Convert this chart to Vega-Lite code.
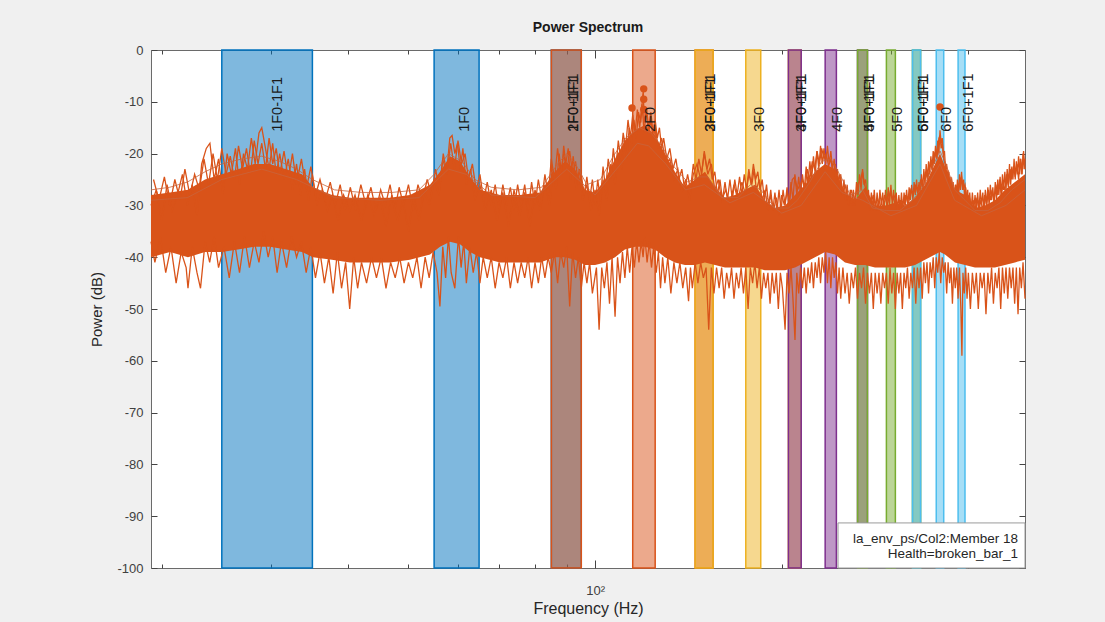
{
"$schema":"https://vega.github.io/schema/vega-lite/v6.json",
"width":874,"height":518,
"autosize":{"type":"none"},
"padding":{"left":151,"top":50,"right":80,"bottom":54},
"background":"#f0f0f0",
"config":{"view":{"fill":"white","stroke":"#6a6a6a","strokeWidth":1},"font":"Liberation Sans"},
"title":{"text":"Power Spectrum","fontSize":14,"fontWeight":"bold","color":"#1a1a1a","font":"Liberation Sans","anchor":"middle","offset":9},
"datasets":{
"bands":[
{"name":"1F0-1F1","g":"1","c":30,"lo":25,"hi":35},
{"name":"1F0","g":"1","c":60,"lo":55,"hi":65},
{"name":"1F0+1F1","g":"1","c":90,"lo":85,"hi":95},
{"name":"2F0-1F1","g":"2","c":90,"lo":85,"hi":95},
{"name":"2F0","g":"2","c":120,"lo":115,"hi":125},
{"name":"2F0+1F1","g":"2","c":150,"lo":145,"hi":155},
{"name":"3F0-1F1","g":"3","c":150,"lo":145,"hi":155},
{"name":"3F0","g":"3","c":180,"lo":175,"hi":185},
{"name":"3F0+1F1","g":"3","c":210,"lo":205,"hi":215},
{"name":"4F0-1F1","g":"4","c":210,"lo":205,"hi":215},
{"name":"4F0","g":"4","c":240,"lo":235,"hi":245},
{"name":"4F0+1F1","g":"4","c":270,"lo":265,"hi":275},
{"name":"5F0-1F1","g":"5","c":270,"lo":265,"hi":275},
{"name":"5F0","g":"5","c":300,"lo":295,"hi":305},
{"name":"5F0+1F1","g":"5","c":330,"lo":325,"hi":335},
{"name":"6F0-1F1","g":"6","c":330,"lo":325,"hi":335},
{"name":"6F0","g":"6","c":360,"lo":355,"hi":365},
{"name":"6F0+1F1","g":"6","c":390,"lo":385,"hi":395}
],
"core":[
{"f":19.22,"lo":-40,"hi":-28},{"f":20.63,"lo":-39,"hi":-27.5},{"f":22.05,"lo":-40,"hi":-27},{"f":23.49,"lo":-39,"hi":-25},{"f":25.0,"lo":-39,"hi":-24},{"f":26.55,"lo":-38.5,"hi":-23},{"f":28.18,"lo":-38,"hi":-22},{"f":29.9,"lo":-38,"hi":-22},{"f":31.73,"lo":-38.5,"hi":-23},{"f":33.68,"lo":-39,"hi":-24},{"f":35.08,"lo":-40,"hi":-26.5},{"f":37.64,"lo":-40.5,"hi":-28},{"f":40.24,"lo":-41,"hi":-28.5},{"f":43.34,"lo":-41,"hi":-28.5},{"f":46.68,"lo":-41,"hi":-28.5},{"f":50.28,"lo":-40.5,"hi":-28},{"f":54.17,"lo":-39.5,"hi":-26},{"f":56.22,"lo":-38,"hi":-23.5},{"f":58.34,"lo":-37,"hi":-20.5},{"f":60.55,"lo":-37.5,"hi":-21.5},{"f":62.84,"lo":-39,"hi":-24.5},{"f":65.22,"lo":-40,"hi":-27},{"f":70.25,"lo":-41,"hi":-28},{"f":75.65,"lo":-41,"hi":-28},{"f":81.49,"lo":-41,"hi":-27.5},{"f":86.16,"lo":-40,"hi":-23.5},{"f":89.44,"lo":-40,"hi":-21.5},{"f":92.82,"lo":-40.5,"hi":-23},{"f":96.31,"lo":-41.5,"hi":-27},{"f":100,"lo":-41.5,"hi":-27.5},{"f":103.8,"lo":-41,"hi":-25},{"f":107.7,"lo":-40,"hi":-21},{"f":111.7,"lo":-38.5,"hi":-17.5},{"f":116,"lo":-38,"hi":-15.5},{"f":120.3,"lo":-38,"hi":-14.5},{"f":124.9,"lo":-38.5,"hi":-16.5},{"f":129.6,"lo":-40,"hi":-20},{"f":134.5,"lo":-41,"hi":-23.5},{"f":139.6,"lo":-41.5,"hi":-26.5},{"f":144.9,"lo":-41.5,"hi":-25},{"f":150.4,"lo":-41,"hi":-23.5},{"f":156.1,"lo":-41.5,"hi":-26.5},{"f":162,"lo":-42,"hi":-28.5},{"f":168.1,"lo":-42,"hi":-28},{"f":174.5,"lo":-42,"hi":-27},{"f":181.1,"lo":-42,"hi":-26},{"f":187.9,"lo":-42.5,"hi":-29},{"f":195.1,"lo":-42.5,"hi":-30.5},{"f":202.5,"lo":-42.5,"hi":-30},{"f":210.1,"lo":-42,"hi":-28},{"f":218.1,"lo":-41,"hi":-26},{"f":226.3,"lo":-40,"hi":-23.5},{"f":234.9,"lo":-39,"hi":-22},{"f":243.8,"lo":-39.5,"hi":-23},{"f":253,"lo":-41,"hi":-27.5},{"f":262.6,"lo":-41.5,"hi":-29},{"f":272.5,"lo":-41.5,"hi":-26.5},{"f":282.8,"lo":-42,"hi":-30},{"f":293.5,"lo":-42,"hi":-30},{"f":304.6,"lo":-42,"hi":-29.5},{"f":316.1,"lo":-42,"hi":-30},{"f":328.1,"lo":-41.5,"hi":-28.5},{"f":340.5,"lo":-40.5,"hi":-26},{"f":353.4,"lo":-39.5,"hi":-22},{"f":360,"lo":-39,"hi":-20},{"f":366.7,"lo":-39.5,"hi":-22.5},{"f":380.6,"lo":-41,"hi":-27},{"f":395,"lo":-41.5,"hi":-28},{"f":409.9,"lo":-42,"hi":-30.5},{"f":425.4,"lo":-42,"hi":-30},{"f":441.5,"lo":-42,"hi":-29},{"f":458.2,"lo":-41.5,"hi":-27},{"f":475.6,"lo":-41,"hi":-25.5},{"f":493.6,"lo":-40.5,"hi":-24}
],
"spikes":[
{"s":"a","f":19.22,"v":-30},{"s":"a","f":19.6,"v":-27},{"s":"a","f":20.0,"v":-33},{"s":"a","f":20.4,"v":-26},{"s":"a","f":20.8,"v":-31},{"s":"a","f":21.2,"v":-28},{"s":"a","f":21.6,"v":-24},{"s":"a","f":22.0,"v":-30},{"s":"a","f":22.4,"v":-26},{"s":"a","f":22.8,"v":-32},{"s":"a","f":23.2,"v":-22},{"s":"a","f":23.6,"v":-19},{"s":"a","f":23.92,"v":-18},{"s":"a","f":24.3,"v":-25},{"s":"a","f":24.7,"v":-21},{"s":"a","f":25.1,"v":-28},{"s":"a","f":25.5,"v":-20},{"s":"a","f":25.9,"v":-24},{"s":"a","f":26.3,"v":-19},{"s":"a","f":26.7,"v":-26},{"s":"a","f":27.1,"v":-20},{"s":"a","f":27.5,"v":-23},{"s":"a","f":27.9,"v":-17},{"s":"a","f":28.3,"v":-22},{"s":"a","f":28.7,"v":-16},{"s":"a","f":29.0,"v":-15},{"s":"a","f":29.4,"v":-19},{"s":"a","f":29.8,"v":-23},{"s":"a","f":30.2,"v":-18},{"s":"a","f":30.6,"v":-24},{"s":"a","f":31.0,"v":-20},{"s":"a","f":31.5,"v":-25},{"s":"a","f":32.0,"v":-21},{"s":"a","f":32.5,"v":-27},{"s":"a","f":33.0,"v":-22},{"s":"a","f":33.5,"v":-28},{"s":"a","f":34.0,"v":-23},{"s":"a","f":34.5,"v":-29},{"s":"a","f":35.0,"v":-24},{"s":"a","f":35.6,"v":-30},{"s":"a","f":36.3,"v":-27},{"s":"a","f":37.0,"v":-31},{"s":"a","f":37.7,"v":-28},{"s":"a","f":38.5,"v":-33},{"s":"a","f":39.3,"v":-28},{"s":"a","f":40.2,"v":-31},{"s":"a","f":41.0,"v":-28},{"s":"a","f":42.0,"v":-33},{"s":"a","f":43.0,"v":-28},{"s":"a","f":44.0,"v":-32},{"s":"a","f":45.0,"v":-28.5},{"s":"a","f":46.0,"v":-34},{"s":"a","f":47.0,"v":-28},{"s":"a","f":48.0,"v":-33},{"s":"a","f":49.0,"v":-29},{"s":"a","f":50.0,"v":-35},{"s":"a","f":51.0,"v":-28},{"s":"a","f":52.0,"v":-33},{"s":"a","f":53.0,"v":-27},{"s":"a","f":54.0,"v":-30},{"s":"a","f":55.0,"v":-25},{"s":"a","f":56.0,"v":-28},{"s":"a","f":56.8,"v":-21},{"s":"a","f":57.6,"v":-24},{"s":"a","f":58.3,"v":-17},{"s":"a","f":58.8,"v":-16.5},{"s":"a","f":59.4,"v":-20},{"s":"a","f":60.0,"v":-18},{"s":"a","f":60.6,"v":-23},{"s":"a","f":61.2,"v":-19},{"s":"a","f":62.0,"v":-26},{"s":"a","f":63.0,"v":-23},{"s":"a","f":64.0,"v":-29},{"s":"a","f":65.2,"v":-26},{"s":"a","f":66.5,"v":-31},{"s":"a","f":68.0,"v":-27},{"s":"a","f":69.5,"v":-33},{"s":"a","f":71.0,"v":-27.5},{"s":"a","f":72.5,"v":-34},{"s":"a","f":74.0,"v":-27},{"s":"a","f":75.5,"v":-32},{"s":"a","f":77.0,"v":-27.5},{"s":"a","f":78.5,"v":-34},{"s":"a","f":80.0,"v":-27},{"s":"a","f":81.5,"v":-31},{"s":"a","f":83.0,"v":-26},{"s":"a","f":84.5,"v":-30},{"s":"a","f":85.5,"v":-23},{"s":"a","f":86.5,"v":-27},{"s":"a","f":87.5,"v":-20},{"s":"a","f":88.3,"v":-24},{"s":"a","f":89.0,"v":-18.5},{"s":"a","f":89.7,"v":-22},{"s":"a","f":90.5,"v":-19},{"s":"a","f":91.3,"v":-25},{"s":"a","f":92.2,"v":-20.5},{"s":"a","f":93.2,"v":-27},{"s":"a","f":94.3,"v":-23},{"s":"a","f":95.5,"v":-29},{"s":"a","f":97.0,"v":-26},{"s":"a","f":98.5,"v":-31},{"s":"a","f":100,"v":-27},{"s":"a","f":101.5,"v":-32},{"s":"a","f":103,"v":-25},{"s":"a","f":104.5,"v":-29},{"s":"a","f":106,"v":-22},{"s":"a","f":107.7,"v":-26},{"s":"a","f":109,"v":-20},{"s":"a","f":110.5,"v":-23},{"s":"a","f":111.5,"v":-17},{"s":"a","f":112.5,"v":-21},{"s":"a","f":113.5,"v":-15},{"s":"a","f":114.5,"v":-18},{"s":"a","f":115.5,"v":-13.5},{"s":"a","f":116.5,"v":-17},{"s":"a","f":117.5,"v":-12},{"s":"a","f":118.5,"v":-14},{"s":"a","f":119.3,"v":-9},{"s":"a","f":119.6,"v":-8},{"s":"a","f":120.0,"v":-14},{"s":"a","f":121,"v":-12},{"s":"a","f":122,"v":-16},{"s":"a","f":123,"v":-13.5},{"s":"a","f":124,"v":-17},{"s":"a","f":125,"v":-15},{"s":"a","f":126.5,"v":-19},{"s":"a","f":128,"v":-17},{"s":"a","f":130,"v":-22},{"s":"a","f":132,"v":-21},{"s":"a","f":134,"v":-25},{"s":"a","f":136,"v":-23},{"s":"a","f":138,"v":-27.5},{"s":"a","f":140,"v":-25},{"s":"a","f":142,"v":-29},{"s":"a","f":144,"v":-24},{"s":"a","f":146,"v":-22},{"s":"a","f":148,"v":-25},{"s":"a","f":150,"v":-20},{"s":"a","f":152,"v":-24},{"s":"a","f":154,"v":-22},{"s":"a","f":156,"v":-27},{"s":"a","f":158,"v":-25},{"s":"a","f":160,"v":-29},{"s":"a","f":162.5,"v":-27},{"s":"a","f":165,"v":-30},{"s":"a","f":167.5,"v":-26},{"s":"a","f":170,"v":-29},{"s":"a","f":172.5,"v":-25.5},{"s":"a","f":175,"v":-28},{"s":"a","f":177,"v":-24},{"s":"a","f":179,"v":-26},{"s":"a","f":180.5,"v":-23},{"s":"a","f":182,"v":-27},{"s":"a","f":184,"v":-25},{"s":"a","f":186,"v":-29},{"s":"a","f":188,"v":-27},{"s":"a","f":190,"v":-31},{"s":"a","f":192,"v":-28},{"s":"a","f":194,"v":-31},{"s":"a","f":196,"v":-28.5},{"s":"a","f":198,"v":-32},{"s":"a","f":200,"v":-28},{"s":"a","f":202,"v":-30},{"s":"a","f":204,"v":-27.5},{"s":"a","f":206,"v":-29},{"s":"a","f":208,"v":-25},{"s":"a","f":210,"v":-24.5},{"s":"a","f":212,"v":-27},{"s":"a","f":214,"v":-26},{"s":"a","f":216,"v":-25},{"s":"a","f":218,"v":-27},{"s":"a","f":220,"v":-23},{"s":"a","f":222,"v":-25},{"s":"a","f":224,"v":-21.5},{"s":"a","f":226,"v":-23},{"s":"a","f":228,"v":-19.5},{"s":"a","f":230,"v":-22},{"s":"a","f":232,"v":-19},{"s":"a","f":234,"v":-21},{"s":"a","f":236,"v":-20},{"s":"a","f":238,"v":-22.5},{"s":"a","f":240,"v":-21},{"s":"a","f":242,"v":-24},{"s":"a","f":244,"v":-22},{"s":"a","f":246,"v":-26},{"s":"a","f":248,"v":-24},{"s":"a","f":250,"v":-28},{"s":"a","f":253,"v":-26},{"s":"a","f":256,"v":-29},{"s":"a","f":259,"v":-27},{"s":"a","f":262,"v":-30},{"s":"a","f":265,"v":-26},{"s":"a","f":268,"v":-25},{"s":"a","f":270,"v":-23.5},{"s":"a","f":272,"v":-26},{"s":"a","f":275,"v":-28},{"s":"a","f":278,"v":-30},{"s":"a","f":281,"v":-28},{"s":"a","f":284,"v":-31},{"s":"a","f":287,"v":-29},{"s":"a","f":290,"v":-31},{"s":"a","f":293,"v":-28},{"s":"a","f":296,"v":-30},{"s":"a","f":299,"v":-27.5},{"s":"a","f":302,"v":-29},{"s":"a","f":305,"v":-28},{"s":"a","f":308,"v":-31},{"s":"a","f":311,"v":-29},{"s":"a","f":314,"v":-31},{"s":"a","f":317,"v":-28},{"s":"a","f":320,"v":-30},{"s":"a","f":323,"v":-27},{"s":"a","f":326,"v":-28},{"s":"a","f":329,"v":-26},{"s":"a","f":332,"v":-28},{"s":"a","f":335,"v":-25},{"s":"a","f":338,"v":-27},{"s":"a","f":341,"v":-23.5},{"s":"a","f":344,"v":-25},{"s":"a","f":347,"v":-22},{"s":"a","f":350,"v":-23},{"s":"a","f":353,"v":-20},{"s":"a","f":356,"v":-21},{"s":"a","f":358.5,"v":-17},{"s":"a","f":360,"v":-16.5},{"s":"a","f":361.5,"v":-19},{"s":"a","f":363,"v":-18},{"s":"a","f":365,"v":-21},{"s":"a","f":367,"v":-22},{"s":"a","f":369,"v":-24},{"s":"a","f":371,"v":-23.5},{"s":"a","f":373,"v":-26},{"s":"a","f":376,"v":-25},{"s":"a","f":379,"v":-28},{"s":"a","f":382,"v":-26},{"s":"a","f":385,"v":-28},{"s":"a","f":388,"v":-25},{"s":"a","f":390,"v":-24.5},{"s":"a","f":392,"v":-27},{"s":"a","f":395,"v":-26},{"s":"a","f":398,"v":-29},{"s":"a","f":401,"v":-28},{"s":"a","f":404,"v":-31},{"s":"a","f":407,"v":-29},{"s":"a","f":410,"v":-31},{"s":"a","f":413,"v":-28.5},{"s":"a","f":416,"v":-31},{"s":"a","f":419,"v":-29},{"s":"a","f":422,"v":-31},{"s":"a","f":425,"v":-28},{"s":"a","f":428,"v":-30},{"s":"a","f":431,"v":-27},{"s":"a","f":434,"v":-29},{"s":"a","f":437,"v":-27},{"s":"a","f":440,"v":-29},{"s":"a","f":443,"v":-26},{"s":"a","f":446,"v":-28},{"s":"a","f":449,"v":-25},{"s":"a","f":452,"v":-28},{"s":"a","f":455,"v":-26},{"s":"a","f":458,"v":-27},{"s":"a","f":461,"v":-24},{"s":"a","f":464,"v":-26.5},{"s":"a","f":467,"v":-23},{"s":"a","f":470,"v":-25},{"s":"a","f":473,"v":-22.5},{"s":"a","f":476,"v":-24.5},{"s":"a","f":479,"v":-22},{"s":"a","f":482,"v":-25},{"s":"a","f":485,"v":-21},{"s":"a","f":488,"v":-24},{"s":"a","f":491,"v":-19.5},{"s":"a","f":493.6,"v":-23},
{"s":"b","f":19.22,"v":-37},{"s":"b","f":19.5,"v":-41},{"s":"b","f":19.9,"v":-36},{"s":"b","f":20.3,"v":-43},{"s":"b","f":20.7,"v":-38},{"s":"b","f":21.1,"v":-45},{"s":"b","f":21.5,"v":-39},{"s":"b","f":21.9,"v":-42},{"s":"b","f":22.05,"v":-46},{"s":"b","f":22.4,"v":-38},{"s":"b","f":22.8,"v":-43},{"s":"b","f":23.1,"v":-46},{"s":"b","f":23.5,"v":-37},{"s":"b","f":23.9,"v":-41},{"s":"b","f":24.3,"v":-36},{"s":"b","f":24.7,"v":-42},{"s":"b","f":25.2,"v":-38},{"s":"b","f":25.7,"v":-44},{"s":"b","f":26.2,"v":-37},{"s":"b","f":26.7,"v":-43},{"s":"b","f":27.2,"v":-36},{"s":"b","f":27.7,"v":-42},{"s":"b","f":28.2,"v":-37},{"s":"b","f":28.7,"v":-41},{"s":"b","f":29.2,"v":-35},{"s":"b","f":29.7,"v":-40},{"s":"b","f":30.2,"v":-36},{"s":"b","f":30.7,"v":-43},{"s":"b","f":31.2,"v":-37},{"s":"b","f":31.8,"v":-42},{"s":"b","f":32.4,"v":-36},{"s":"b","f":33.0,"v":-40},{"s":"b","f":33.6,"v":-37},{"s":"b","f":34.2,"v":-43},{"s":"b","f":34.8,"v":-38},{"s":"b","f":35.4,"v":-44},{"s":"b","f":36.0,"v":-39},{"s":"b","f":36.6,"v":-45},{"s":"b","f":37.2,"v":-40},{"s":"b","f":37.8,"v":-47},{"s":"b","f":38.4,"v":-39},{"s":"b","f":39.0,"v":-46},{"s":"b","f":39.6,"v":-41},{"s":"b","f":40.2,"v":-50},{"s":"b","f":40.8,"v":-40},{"s":"b","f":41.4,"v":-46},{"s":"b","f":42.0,"v":-41},{"s":"b","f":42.8,"v":-45},{"s":"b","f":43.6,"v":-40},{"s":"b","f":44.4,"v":-44},{"s":"b","f":45.2,"v":-40},{"s":"b","f":46.0,"v":-46},{"s":"b","f":46.8,"v":-41},{"s":"b","f":47.6,"v":-44},{"s":"b","f":48.4,"v":-40},{"s":"b","f":49.2,"v":-45},{"s":"b","f":50.0,"v":-41},{"s":"b","f":50.8,"v":-44},{"s":"b","f":51.6,"v":-40},{"s":"b","f":52.4,"v":-46},{"s":"b","f":53.2,"v":-40},{"s":"b","f":54.0,"v":-44},{"s":"b","f":54.8,"v":-39},{"s":"b","f":55.6,"v":-43},{"s":"b","f":56.2,"v":-49.5},{"s":"b","f":56.8,"v":-38},{"s":"b","f":57.4,"v":-44},{"s":"b","f":58.0,"v":-36},{"s":"b","f":58.6,"v":-43},{"s":"b","f":59.4,"v":-46},{"s":"b","f":60.2,"v":-36},{"s":"b","f":60.8,"v":-42},{"s":"b","f":61.4,"v":-37},{"s":"b","f":62.0,"v":-45},{"s":"b","f":62.8,"v":-38},{"s":"b","f":63.6,"v":-43},{"s":"b","f":64.4,"v":-39},{"s":"b","f":65.2,"v":-45},{"s":"b","f":66.0,"v":-40},{"s":"b","f":67.0,"v":-44},{"s":"b","f":68.0,"v":-40},{"s":"b","f":69.0,"v":-46},{"s":"b","f":70.0,"v":-41},{"s":"b","f":71.0,"v":-44},{"s":"b","f":72.0,"v":-40},{"s":"b","f":73.0,"v":-46},{"s":"b","f":74.0,"v":-41},{"s":"b","f":75.0,"v":-45},{"s":"b","f":76.0,"v":-41},{"s":"b","f":77.0,"v":-44},{"s":"b","f":78.0,"v":-40},{"s":"b","f":79.0,"v":-46},{"s":"b","f":80.0,"v":-41},{"s":"b","f":81.0,"v":-45},{"s":"b","f":82.0,"v":-40},{"s":"b","f":83.0,"v":-44},{"s":"b","f":84.0,"v":-40},{"s":"b","f":85.0,"v":-43},{"s":"b","f":86.0,"v":-39},{"s":"b","f":87.0,"v":-45},{"s":"b","f":88.0,"v":-39},{"s":"b","f":89.0,"v":-42},{"s":"b","f":90.0,"v":-38},{"s":"b","f":91.0,"v":-49.5},{"s":"b","f":92.0,"v":-39},{"s":"b","f":93.0,"v":-44},{"s":"b","f":94.0,"v":-40},{"s":"b","f":95.0,"v":-46},{"s":"b","f":96.0,"v":-41},{"s":"b","f":97.0,"v":-45},{"s":"b","f":98.0,"v":-41},{"s":"b","f":99.0,"v":-47},{"s":"b","f":100.5,"v":-42},{"s":"b","f":101.5,"v":-54},{"s":"b","f":102.5,"v":-42},{"s":"b","f":103.5,"v":-46},{"s":"b","f":104.5,"v":-41},{"s":"b","f":105.5,"v":-49},{"s":"b","f":106.5,"v":-40},{"s":"b","f":107.7,"v":-51.5},{"s":"b","f":108.7,"v":-40},{"s":"b","f":109.7,"v":-45},{"s":"b","f":110.7,"v":-39},{"s":"b","f":111.7,"v":-44},{"s":"b","f":112.7,"v":-38},{"s":"b","f":113.7,"v":-43},{"s":"b","f":114.7,"v":-38},{"s":"b","f":115.7,"v":-42},{"s":"b","f":116.7,"v":-37},{"s":"b","f":117.7,"v":-41},{"s":"b","f":118.7,"v":-37},{"s":"b","f":119.5,"v":-40},{"s":"b","f":120.3,"v":-36},{"s":"b","f":121.3,"v":-41},{"s":"b","f":122.3,"v":-37},{"s":"b","f":123.3,"v":-42},{"s":"b","f":124.3,"v":-38},{"s":"b","f":125.5,"v":-43},{"s":"b","f":126.5,"v":-39},{"s":"b","f":127.5,"v":-46},{"s":"b","f":128.5,"v":-40},{"s":"b","f":129.6,"v":-45},{"s":"b","f":131,"v":-40},{"s":"b","f":132.5,"v":-47},{"s":"b","f":134,"v":-41},{"s":"b","f":135.5,"v":-45},{"s":"b","f":137,"v":-41},{"s":"b","f":138.5,"v":-46},{"s":"b","f":140,"v":-42},{"s":"b","f":141.5,"v":-48.5},{"s":"b","f":142.5,"v":-42},{"s":"b","f":143.5,"v":-46},{"s":"b","f":145,"v":-41},{"s":"b","f":146.5,"v":-45},{"s":"b","f":148,"v":-41},{"s":"b","f":149.5,"v":-44},{"s":"b","f":151,"v":-42},{"s":"b","f":152.5,"v":-54},{"s":"b","f":154,"v":-42},{"s":"b","f":155.5,"v":-47},{"s":"b","f":157,"v":-42},{"s":"b","f":158.5,"v":-46},{"s":"b","f":160,"v":-42},{"s":"b","f":161.5,"v":-48},{"s":"b","f":163,"v":-43},{"s":"b","f":164.5,"v":-46},{"s":"b","f":166,"v":-42},{"s":"b","f":167.5,"v":-48},{"s":"b","f":169,"v":-43},{"s":"b","f":170.5,"v":-46},{"s":"b","f":172,"v":-42},{"s":"b","f":173.5,"v":-47},{"s":"b","f":175,"v":-42},{"s":"b","f":176.5,"v":-50},{"s":"b","f":178,"v":-42},{"s":"b","f":179.5,"v":-45},{"s":"b","f":181,"v":-41},{"s":"b","f":182.5,"v":-46},{"s":"b","f":184,"v":-42},{"s":"b","f":185.5,"v":-48},{"s":"b","f":187,"v":-43},{"s":"b","f":188.5,"v":-46},{"s":"b","f":190,"v":-43},{"s":"b","f":191.5,"v":-49},{"s":"b","f":193,"v":-43},{"s":"b","f":194.5,"v":-47},{"s":"b","f":196,"v":-43},{"s":"b","f":197.5,"v":-50},{"s":"b","f":199,"v":-43},{"s":"b","f":200.5,"v":-46},{"s":"b","f":202.5,"v":-54},{"s":"b","f":204,"v":-43},{"s":"b","f":205.5,"v":-47},{"s":"b","f":207,"v":-42},{"s":"b","f":208.5,"v":-48},{"s":"b","f":210.1,"v":-56},{"s":"b","f":211.5,"v":-43},{"s":"b","f":213,"v":-47},{"s":"b","f":214.5,"v":-42},{"s":"b","f":216,"v":-46},{"s":"b","f":217.5,"v":-42},{"s":"b","f":219,"v":-47},{"s":"b","f":220.5,"v":-42},{"s":"b","f":222,"v":-45},{"s":"b","f":223.5,"v":-41},{"s":"b","f":225,"v":-46},{"s":"b","f":226.5,"v":-41},{"s":"b","f":228,"v":-44},{"s":"b","f":229.5,"v":-40},{"s":"b","f":231,"v":-45},{"s":"b","f":232.5,"v":-40},{"s":"b","f":234,"v":-43},{"s":"b","f":235.5,"v":-39},{"s":"b","f":237,"v":-45},{"s":"b","f":238.5,"v":-40},{"s":"b","f":240,"v":-46},{"s":"b","f":241.5,"v":-40},{"s":"b","f":243,"v":-44},{"s":"b","f":244.5,"v":-41},{"s":"b","f":246,"v":-47},{"s":"b","f":247.5,"v":-42},{"s":"b","f":249,"v":-48},{"s":"b","f":251,"v":-42},{"s":"b","f":253,"v":-47},{"s":"b","f":255,"v":-43},{"s":"b","f":257,"v":-49},{"s":"b","f":259,"v":-43},{"s":"b","f":261,"v":-46},{"s":"b","f":263,"v":-42},{"s":"b","f":265,"v":-48},{"s":"b","f":267,"v":-43},{"s":"b","f":269,"v":-46},{"s":"b","f":271,"v":-42},{"s":"b","f":273,"v":-49},{"s":"b","f":275,"v":-43},{"s":"b","f":277,"v":-47},{"s":"b","f":279,"v":-43},{"s":"b","f":281,"v":-50},{"s":"b","f":283,"v":-43},{"s":"b","f":285,"v":-47},{"s":"b","f":287,"v":-43},{"s":"b","f":289,"v":-49},{"s":"b","f":291,"v":-43},{"s":"b","f":293,"v":-46},{"s":"b","f":295,"v":-43},{"s":"b","f":297,"v":-49},{"s":"b","f":299,"v":-42},{"s":"b","f":301,"v":-47},{"s":"b","f":303,"v":-43},{"s":"b","f":305,"v":-50},{"s":"b","f":307,"v":-43},{"s":"b","f":309,"v":-47},{"s":"b","f":311,"v":-43},{"s":"b","f":313,"v":-50},{"s":"b","f":315,"v":-43},{"s":"b","f":317,"v":-46},{"s":"b","f":319,"v":-42},{"s":"b","f":321,"v":-48},{"s":"b","f":323,"v":-43},{"s":"b","f":325,"v":-46},{"s":"b","f":327,"v":-42},{"s":"b","f":329,"v":-49},{"s":"b","f":331,"v":-42},{"s":"b","f":333,"v":-46},{"s":"b","f":335,"v":-42},{"s":"b","f":337,"v":-48},{"s":"b","f":339,"v":-41},{"s":"b","f":341,"v":-45},{"s":"b","f":343,"v":-41},{"s":"b","f":345,"v":-47},{"s":"b","f":347,"v":-41},{"s":"b","f":349,"v":-44},{"s":"b","f":351,"v":-40},{"s":"b","f":353,"v":-46},{"s":"b","f":355,"v":-40},{"s":"b","f":357,"v":-43},{"s":"b","f":359,"v":-39},{"s":"b","f":361,"v":-45},{"s":"b","f":363,"v":-40},{"s":"b","f":365,"v":-43},{"s":"b","f":367,"v":-41},{"s":"b","f":369,"v":-47},{"s":"b","f":371,"v":-41},{"s":"b","f":373,"v":-45},{"s":"b","f":375,"v":-42},{"s":"b","f":377,"v":-49},{"s":"b","f":379,"v":-42},{"s":"b","f":381,"v":-46},{"s":"b","f":383,"v":-42},{"s":"b","f":385,"v":-48},{"s":"b","f":387,"v":-42},{"s":"b","f":389,"v":-50},{"s":"b","f":390.5,"v":-59},{"s":"b","f":392,"v":-43},{"s":"b","f":394,"v":-47},{"s":"b","f":396,"v":-42},{"s":"b","f":398,"v":-48},{"s":"b","f":400,"v":-43},{"s":"b","f":403,"v":-50},{"s":"b","f":406,"v":-43},{"s":"b","f":409,"v":-47},{"s":"b","f":412,"v":-43},{"s":"b","f":415,"v":-50},{"s":"b","f":418,"v":-43},{"s":"b","f":421,"v":-46},{"s":"b","f":424,"v":-43},{"s":"b","f":427,"v":-51},{"s":"b","f":430,"v":-43},{"s":"b","f":433,"v":-47},{"s":"b","f":436,"v":-42},{"s":"b","f":439,"v":-49},{"s":"b","f":442,"v":-43},{"s":"b","f":445,"v":-46},{"s":"b","f":448,"v":-42},{"s":"b","f":451,"v":-50},{"s":"b","f":454,"v":-42},{"s":"b","f":457,"v":-47},{"s":"b","f":460,"v":-42},{"s":"b","f":463,"v":-48},{"s":"b","f":466,"v":-42},{"s":"b","f":469,"v":-46},{"s":"b","f":472,"v":-42},{"s":"b","f":475,"v":-49},{"s":"b","f":478,"v":-42},{"s":"b","f":481,"v":-51},{"s":"b","f":484,"v":-42},{"s":"b","f":487,"v":-46},{"s":"b","f":490,"v":-41},{"s":"b","f":493.6,"v":-48},
{"s":"c","f":19.4,"v":-25},{"s":"c","f":19.8,"v":-29},{"s":"c","f":20.2,"v":-24.5},{"s":"c","f":20.6,"v":-30},{"s":"c","f":21.0,"v":-25},{"s":"c","f":21.4,"v":-29},{"s":"c","f":21.8,"v":-23},{"s":"c","f":22.2,"v":-28},{"s":"c","f":22.6,"v":-24},{"s":"c","f":23.0,"v":-27},{"s":"c","f":23.4,"v":-21},{"s":"c","f":23.8,"v":-26},{"s":"c","f":24.2,"v":-20},{"s":"c","f":24.6,"v":-25},{"s":"c","f":25.0,"v":-19},{"s":"c","f":25.4,"v":-24},{"s":"c","f":25.8,"v":-20.5},{"s":"c","f":26.2,"v":-25},{"s":"c","f":26.6,"v":-18.5},{"s":"c","f":27.0,"v":-23},{"s":"c","f":27.4,"v":-19},{"s":"c","f":27.8,"v":-24},{"s":"c","f":28.2,"v":-17.5},{"s":"c","f":28.6,"v":-22},{"s":"c","f":29.0,"v":-18},{"s":"c","f":29.4,"v":-23},{"s":"c","f":29.8,"v":-17},{"s":"c","f":30.2,"v":-22},{"s":"c","f":30.6,"v":-19},{"s":"c","f":31.0,"v":-24},{"s":"c","f":31.5,"v":-19.5},{"s":"c","f":32.0,"v":-25},{"s":"c","f":32.5,"v":-20},{"s":"c","f":33.0,"v":-26},{"s":"c","f":33.6,"v":-21},{"s":"c","f":34.2,"v":-27},{"s":"c","f":34.8,"v":-22.5},{"s":"c","f":35.4,"v":-28},{"s":"c","f":36.0,"v":-25},{"s":"c","f":36.7,"v":-29},{"s":"c","f":37.4,"v":-25.5},{"s":"c","f":38.1,"v":-30},{"s":"c","f":38.8,"v":-26},{"s":"c","f":39.5,"v":-31},{"s":"c","f":40.3,"v":-26.5},{"s":"c","f":41.1,"v":-31},{"s":"c","f":41.9,"v":-26},{"s":"c","f":42.7,"v":-30},{"s":"c","f":43.5,"v":-26.5},{"s":"c","f":44.3,"v":-31},{"s":"c","f":45.1,"v":-27},{"s":"c","f":45.9,"v":-30},{"s":"c","f":46.7,"v":-26},{"s":"c","f":47.5,"v":-31},{"s":"c","f":48.3,"v":-26.5},{"s":"c","f":49.1,"v":-30},{"s":"c","f":50.0,"v":-26},{"s":"c","f":50.9,"v":-31},{"s":"c","f":51.8,"v":-26},{"s":"c","f":52.7,"v":-29},{"s":"c","f":53.6,"v":-25},{"s":"c","f":54.5,"v":-28},{"s":"c","f":55.3,"v":-23},{"s":"c","f":56.1,"v":-27},{"s":"c","f":56.9,"v":-20},{"s":"c","f":57.7,"v":-24},{"s":"c","f":58.5,"v":-18},{"s":"c","f":59.3,"v":-23},{"s":"c","f":60.1,"v":-17.5},{"s":"c","f":60.9,"v":-22},{"s":"c","f":61.7,"v":-20},{"s":"c","f":62.5,"v":-25},{"s":"c","f":63.4,"v":-22},{"s":"c","f":64.3,"v":-27},{"s":"c","f":65.2,"v":-24},{"s":"c","f":66.1,"v":-29},{"s":"c","f":67.0,"v":-25.5},{"s":"c","f":68.0,"v":-30},{"s":"c","f":69.0,"v":-26},{"s":"c","f":70.0,"v":-31},{"s":"c","f":71.0,"v":-26},{"s":"c","f":72.0,"v":-30},{"s":"c","f":73.0,"v":-26.5},{"s":"c","f":74.0,"v":-31},{"s":"c","f":75.0,"v":-26},{"s":"c","f":76.0,"v":-30},{"s":"c","f":77.0,"v":-26},{"s":"c","f":78.0,"v":-31},{"s":"c","f":79.0,"v":-25.5},{"s":"c","f":80.0,"v":-30},{"s":"c","f":81.0,"v":-25},{"s":"c","f":82.0,"v":-29},{"s":"c","f":83.0,"v":-24},{"s":"c","f":84.0,"v":-28},{"s":"c","f":85.0,"v":-21},{"s":"c","f":86.0,"v":-25},{"s":"c","f":87.0,"v":-19},{"s":"c","f":88.0,"v":-24},{"s":"c","f":89.0,"v":-20},{"s":"c","f":90.0,"v":-23.5},{"s":"c","f":91.0,"v":-19.5},{"s":"c","f":92.0,"v":-24},{"s":"c","f":93.0,"v":-21.5},{"s":"c","f":94.0,"v":-26},{"s":"c","f":95.0,"v":-24},{"s":"c","f":96.0,"v":-28},{"s":"c","f":97.0,"v":-24.5},{"s":"c","f":98.0,"v":-29},{"s":"c","f":99.0,"v":-25},{"s":"c","f":100.0,"v":-30},{"s":"c","f":101.0,"v":-25},{"s":"c","f":102.0,"v":-29},{"s":"c","f":103.0,"v":-22.5},{"s":"c","f":104.0,"v":-27},{"s":"c","f":105.0,"v":-21},{"s":"c","f":106.0,"v":-25},{"s":"c","f":107.0,"v":-19},{"s":"c","f":108.0,"v":-23},{"s":"c","f":109.0,"v":-17.5},{"s":"c","f":110.0,"v":-21},{"s":"c","f":111.0,"v":-16},{"s":"c","f":112.0,"v":-19},{"s":"c","f":113.0,"v":-13.5},{"s":"c","f":114.0,"v":-17},{"s":"c","f":115.0,"v":-12.5},{"s":"c","f":116.0,"v":-16},{"s":"c","f":117.0,"v":-11.5},{"s":"c","f":118.0,"v":-15},{"s":"c","f":119.0,"v":-10.5},{"s":"c","f":120.0,"v":-16},{"s":"c","f":121.0,"v":-11},{"s":"c","f":122.0,"v":-15},{"s":"c","f":123.0,"v":-12},{"s":"c","f":124.0,"v":-16},{"s":"c","f":125.0,"v":-13.5},{"s":"c","f":126.0,"v":-17},{"s":"c","f":127.0,"v":-15},{"s":"c","f":128.0,"v":-19},{"s":"c","f":129.0,"v":-17},{"s":"c","f":130.5,"v":-21},{"s":"c","f":132.0,"v":-19},{"s":"c","f":133.5,"v":-23},{"s":"c","f":135.0,"v":-21},{"s":"c","f":136.5,"v":-25},{"s":"c","f":138.0,"v":-23},{"s":"c","f":139.5,"v":-27},{"s":"c","f":141.0,"v":-24},{"s":"c","f":142.5,"v":-27},{"s":"c","f":144.0,"v":-22},{"s":"c","f":145.5,"v":-25},{"s":"c","f":147.0,"v":-21},{"s":"c","f":148.5,"v":-24},{"s":"c","f":150.0,"v":-19.5},{"s":"c","f":151.5,"v":-23},{"s":"c","f":153.0,"v":-21},{"s":"c","f":154.5,"v":-25},{"s":"c","f":156.0,"v":-23.5},{"s":"c","f":157.5,"v":-28},{"s":"c","f":159.0,"v":-25},{"s":"c","f":160.5,"v":-29},{"s":"c","f":162.0,"v":-25.5},{"s":"c","f":163.5,"v":-29},{"s":"c","f":165.0,"v":-25},{"s":"c","f":166.5,"v":-29},{"s":"c","f":168.0,"v":-25},{"s":"c","f":169.5,"v":-28},{"s":"c","f":171.0,"v":-24.5},{"s":"c","f":172.5,"v":-28},{"s":"c","f":174.0,"v":-24},{"s":"c","f":175.5,"v":-27},{"s":"c","f":177.0,"v":-23},{"s":"c","f":178.5,"v":-26},{"s":"c","f":180.0,"v":-22},{"s":"c","f":181.5,"v":-25},{"s":"c","f":183.0,"v":-23.5},{"s":"c","f":184.5,"v":-27},{"s":"c","f":186.0,"v":-25},{"s":"c","f":187.5,"v":-29},{"s":"c","f":189.0,"v":-26},{"s":"c","f":190.5,"v":-30},{"s":"c","f":192.0,"v":-27},{"s":"c","f":193.5,"v":-31},{"s":"c","f":195.0,"v":-27.5},{"s":"c","f":196.5,"v":-31},{"s":"c","f":198.0,"v":-27},{"s":"c","f":199.5,"v":-31},{"s":"c","f":201.0,"v":-27},{"s":"c","f":202.5,"v":-30},{"s":"c","f":204.0,"v":-26.5},{"s":"c","f":205.5,"v":-30},{"s":"c","f":207.0,"v":-25.5},{"s":"c","f":208.5,"v":-29},{"s":"c","f":210.0,"v":-24},{"s":"c","f":211.5,"v":-28},{"s":"c","f":213.0,"v":-24.5},{"s":"c","f":214.5,"v":-28},{"s":"c","f":216.0,"v":-24},{"s":"c","f":217.5,"v":-27},{"s":"c","f":219.0,"v":-22.5},{"s":"c","f":220.5,"v":-26},{"s":"c","f":222.0,"v":-21.5},{"s":"c","f":223.5,"v":-25},{"s":"c","f":225.0,"v":-20.5},{"s":"c","f":226.5,"v":-24},{"s":"c","f":228.0,"v":-19.5},{"s":"c","f":229.5,"v":-23},{"s":"c","f":231.0,"v":-18.5},{"s":"c","f":232.5,"v":-22},{"s":"c","f":234.0,"v":-19},{"s":"c","f":235.5,"v":-22},{"s":"c","f":237.0,"v":-18.5},{"s":"c","f":238.5,"v":-22},{"s":"c","f":240.0,"v":-19.5},{"s":"c","f":241.5,"v":-23},{"s":"c","f":243.0,"v":-21},{"s":"c","f":244.5,"v":-25},{"s":"c","f":246.0,"v":-23},{"s":"c","f":247.5,"v":-27},{"s":"c","f":249.0,"v":-24},{"s":"c","f":250.5,"v":-28},{"s":"c","f":252.0,"v":-25},{"s":"c","f":253.5,"v":-29},{"s":"c","f":255.0,"v":-26},{"s":"c","f":256.5,"v":-30},{"s":"c","f":258.0,"v":-27},{"s":"c","f":259.5,"v":-30},{"s":"c","f":261.0,"v":-27},{"s":"c","f":262.5,"v":-30},{"s":"c","f":264.0,"v":-25.5},{"s":"c","f":265.5,"v":-28},{"s":"c","f":267.0,"v":-24},{"s":"c","f":268.5,"v":-27},{"s":"c","f":270.0,"v":-23},{"s":"c","f":271.5,"v":-26},{"s":"c","f":273.0,"v":-25},{"s":"c","f":274.5,"v":-28},{"s":"c","f":276.0,"v":-27},{"s":"c","f":277.5,"v":-31},{"s":"c","f":279.0,"v":-27.5},{"s":"c","f":280.5,"v":-31},{"s":"c","f":282.0,"v":-27},{"s":"c","f":283.5,"v":-31},{"s":"c","f":285.0,"v":-27.5},{"s":"c","f":286.5,"v":-31},{"s":"c","f":288.0,"v":-27},{"s":"c","f":289.5,"v":-30},{"s":"c","f":291.0,"v":-27.5},{"s":"c","f":292.5,"v":-31},{"s":"c","f":294.0,"v":-27},{"s":"c","f":295.5,"v":-30},{"s":"c","f":297.0,"v":-26.5},{"s":"c","f":298.5,"v":-30},{"s":"c","f":300.0,"v":-26},{"s":"c","f":301.5,"v":-30},{"s":"c","f":303.0,"v":-27},{"s":"c","f":304.5,"v":-31},{"s":"c","f":306.0,"v":-27.5},{"s":"c","f":307.5,"v":-31},{"s":"c","f":309.0,"v":-28},{"s":"c","f":310.5,"v":-31},{"s":"c","f":312.0,"v":-27.5},{"s":"c","f":313.5,"v":-31},{"s":"c","f":315.0,"v":-27.5},{"s":"c","f":316.5,"v":-30},{"s":"c","f":318.0,"v":-27},{"s":"c","f":319.5,"v":-30},{"s":"c","f":321.0,"v":-26.5},{"s":"c","f":322.5,"v":-29},{"s":"c","f":324.0,"v":-26},{"s":"c","f":325.5,"v":-29},{"s":"c","f":327.0,"v":-25.5},{"s":"c","f":328.5,"v":-28},{"s":"c","f":330.0,"v":-25},{"s":"c","f":331.5,"v":-28},{"s":"c","f":333.0,"v":-25.5},{"s":"c","f":334.5,"v":-28},{"s":"c","f":336.0,"v":-24},{"s":"c","f":337.5,"v":-27},{"s":"c","f":339.0,"v":-23},{"s":"c","f":340.5,"v":-26},{"s":"c","f":342.0,"v":-22},{"s":"c","f":343.5,"v":-25},{"s":"c","f":345.0,"v":-21.5},{"s":"c","f":346.5,"v":-24},{"s":"c","f":348.0,"v":-20.5},{"s":"c","f":349.5,"v":-23},{"s":"c","f":351.0,"v":-19.5},{"s":"c","f":352.5,"v":-22},{"s":"c","f":354.0,"v":-18.5},{"s":"c","f":355.5,"v":-21},{"s":"c","f":357.0,"v":-17.5},{"s":"c","f":358.5,"v":-20},{"s":"c","f":360.0,"v":-15.5},{"s":"c","f":361.5,"v":-18},{"s":"c","f":363.0,"v":-17},{"s":"c","f":364.5,"v":-20},{"s":"c","f":366.0,"v":-19.5},{"s":"c","f":367.5,"v":-23},{"s":"c","f":369.0,"v":-22},{"s":"c","f":370.5,"v":-25},{"s":"c","f":372.0,"v":-23.5},{"s":"c","f":373.5,"v":-27},{"s":"c","f":375.0,"v":-24.5},{"s":"c","f":376.5,"v":-28},{"s":"c","f":378.0,"v":-25.5},{"s":"c","f":379.5,"v":-29},{"s":"c","f":381.0,"v":-26},{"s":"c","f":382.5,"v":-29},{"s":"c","f":384.0,"v":-25},{"s":"c","f":385.5,"v":-28},{"s":"c","f":387.0,"v":-24},{"s":"c","f":388.5,"v":-27},{"s":"c","f":390.0,"v":-23.5},{"s":"c","f":391.5,"v":-27},{"s":"c","f":393.0,"v":-25},{"s":"c","f":394.5,"v":-29},{"s":"c","f":396.0,"v":-26.5},{"s":"c","f":397.5,"v":-30},{"s":"c","f":399.0,"v":-27},{"s":"c","f":400.5,"v":-31},{"s":"c","f":402.0,"v":-27.5},{"s":"c","f":404.0,"v":-31},{"s":"c","f":406.0,"v":-27.5},{"s":"c","f":408.0,"v":-31},{"s":"c","f":410.0,"v":-28},{"s":"c","f":412.0,"v":-31},{"s":"c","f":414.0,"v":-27.5},{"s":"c","f":416.0,"v":-31},{"s":"c","f":418.0,"v":-27},{"s":"c","f":420.0,"v":-30},{"s":"c","f":422.0,"v":-27.5},{"s":"c","f":424.0,"v":-31},{"s":"c","f":426.0,"v":-27},{"s":"c","f":428.0,"v":-30},{"s":"c","f":430.0,"v":-26.5},{"s":"c","f":432.0,"v":-30},{"s":"c","f":434.0,"v":-26},{"s":"c","f":436.0,"v":-29},{"s":"c","f":438.0,"v":-26.5},{"s":"c","f":440.0,"v":-30},{"s":"c","f":442.0,"v":-25.5},{"s":"c","f":444.0,"v":-29},{"s":"c","f":446.0,"v":-25},{"s":"c","f":448.0,"v":-28},{"s":"c","f":450.0,"v":-24.5},{"s":"c","f":452.0,"v":-28},{"s":"c","f":454.0,"v":-24},{"s":"c","f":456.0,"v":-27},{"s":"c","f":458.0,"v":-23.5},{"s":"c","f":460.0,"v":-27},{"s":"c","f":462.0,"v":-23},{"s":"c","f":464.0,"v":-26},{"s":"c","f":466.0,"v":-22},{"s":"c","f":468.0,"v":-26},{"s":"c","f":470.0,"v":-22.5},{"s":"c","f":472.0,"v":-25},{"s":"c","f":474.0,"v":-21},{"s":"c","f":476.0,"v":-25},{"s":"c","f":478.0,"v":-21.5},{"s":"c","f":480.0,"v":-24},{"s":"c","f":482.0,"v":-20.5},{"s":"c","f":484.0,"v":-24},{"s":"c","f":486.0,"v":-21},{"s":"c","f":488.0,"v":-24},{"s":"c","f":490.0,"v":-20},{"s":"c","f":492.0,"v":-23},{"s":"c","f":493.6,"v":-21}
],
"smooth":[
{"s":"u1","f":19.22,"v":-27},{"s":"u1","f":20.6,"v":-26.5},{"s":"u1","f":22,"v":-25.5},{"s":"u1","f":23.5,"v":-23.5},{"s":"u1","f":25,"v":-22},{"s":"u1","f":27,"v":-21},{"s":"u1","f":29,"v":-20.5},{"s":"u1","f":31,"v":-21.5},{"s":"u1","f":33,"v":-23},{"s":"u1","f":35,"v":-25},{"s":"u1","f":38,"v":-27},{"s":"u1","f":42,"v":-27.5},{"s":"u1","f":47,"v":-27.5},{"s":"u1","f":52,"v":-27},{"s":"u1","f":55,"v":-24},{"s":"u1","f":58,"v":-20},{"s":"u1","f":61,"v":-21.5},{"s":"u1","f":64,"v":-25},{"s":"u1","f":68,"v":-26.5},{"s":"u1","f":75,"v":-27},{"s":"u1","f":82,"v":-26.5},{"s":"u1","f":87,"v":-22},{"s":"u1","f":90,"v":-20},{"s":"u1","f":93,"v":-22},{"s":"u1","f":97,"v":-26},{"s":"u1","f":102,"v":-25},{"s":"u1","f":107,"v":-20.5},{"s":"u1","f":112,"v":-17},{"s":"u1","f":118,"v":-15},{"s":"u1","f":123,"v":-16},{"s":"u1","f":128,"v":-18.5},{"s":"u1","f":134,"v":-22.5},{"s":"u1","f":141,"v":-25.5},{"s":"u1","f":147,"v":-24.5},{"s":"u1","f":152,"v":-24.5},{"s":"u1","f":160,"v":-28.5},{"s":"u1","f":170,"v":-28.5},{"s":"u1","f":178,"v":-26},{"s":"u1","f":185,"v":-27},{"s":"u1","f":195,"v":-30.5},{"s":"u1","f":205,"v":-30.5},{"s":"u1","f":212,"v":-29},{"s":"u1","f":222,"v":-25.5},{"s":"u1","f":232,"v":-21.5},{"s":"u1","f":240,"v":-21},{"s":"u1","f":248,"v":-24},{"s":"u1","f":258,"v":-28},{"s":"u1","f":270,"v":-27},{"s":"u1","f":280,"v":-30.5},{"s":"u1","f":295,"v":-31},{"s":"u1","f":310,"v":-31},{"s":"u1","f":325,"v":-29},{"s":"u1","f":340,"v":-26},{"s":"u1","f":352,"v":-22},{"s":"u1","f":360,"v":-19.5},{"s":"u1","f":368,"v":-22},{"s":"u1","f":380,"v":-27},{"s":"u1","f":395,"v":-29},{"s":"u1","f":410,"v":-31},{"s":"u1","f":430,"v":-31},{"s":"u1","f":450,"v":-29.5},{"s":"u1","f":470,"v":-27},{"s":"u1","f":493.6,"v":-25},
{"s":"u2","f":19.22,"v":-29},{"s":"u2","f":22,"v":-28.5},{"s":"u2","f":25,"v":-25},{"s":"u2","f":29,"v":-23},{"s":"u2","f":33,"v":-25},{"s":"u2","f":38,"v":-28.5},{"s":"u2","f":45,"v":-29},{"s":"u2","f":52,"v":-28.5},{"s":"u2","f":58,"v":-23},{"s":"u2","f":62,"v":-24},{"s":"u2","f":68,"v":-28},{"s":"u2","f":80,"v":-28.5},{"s":"u2","f":90,"v":-23},{"s":"u2","f":100,"v":-28},{"s":"u2","f":110,"v":-22},{"s":"u2","f":117,"v":-18},{"s":"u2","f":122,"v":-18.5},{"s":"u2","f":130,"v":-22},{"s":"u2","f":140,"v":-27},{"s":"u2","f":150,"v":-26},{"s":"u2","f":165,"v":-29.5},{"s":"u2","f":180,"v":-27.5},{"s":"u2","f":200,"v":-31.5},{"s":"u2","f":215,"v":-30},{"s":"u2","f":235,"v":-23.5},{"s":"u2","f":250,"v":-27.5},{"s":"u2","f":270,"v":-29},{"s":"u2","f":300,"v":-32},{"s":"u2","f":330,"v":-30},{"s":"u2","f":360,"v":-22},{"s":"u2","f":380,"v":-29},{"s":"u2","f":420,"v":-32},{"s":"u2","f":460,"v":-30},{"s":"u2","f":493.6,"v":-27}
],
"peaks":[
{"f":114.7,"v":-11.2},{"f":119.8,"v":-7.5},{"f":119.8,"v":-9.5},{"f":119.8,"v":-11.5},{"f":360,"v":-11}
]
},
"resolve":{"axis":{"x":"independent","y":"independent"}},
"layer":[
{
"data":{"name":"bands"},
"mark":{"type":"rect","fillOpacity":0.5,"strokeWidth":1.5},
"encoding":{
"x":{"field":"lo","type":"quantitative","scale":{"type":"log","domain":[19.22,493.6],"nice":false},
"axis":{"orient":"bottom","title":"Frequency (Hz)","values":[20,30,40,50,60,70,80,90,100,200,300,400],"labelExpr":"datum.value === 100 ? '10²' : ''","tickSize":{"condition":{"test":"datum.value === 100","value":-8},"value":-4},"tickColor":"#444444","domain":false,"grid":false,"labelFontSize":13,"labelColor":"#404040","labelPadding":24,"labelFlush":false,"titleFontSize":16,"titleFontWeight":"normal","titleColor":"#262626","titlePadding":3}},
"x2":{"field":"hi"},
"y":{"datum":0,"type":"quantitative","scale":{"domain":[-100,0],"nice":false},
"axis":{"orient":"left","title":"Power (dB)","values":[-100,-90,-80,-70,-60,-50,-40,-30,-20,-10,0],"labelExpr":"'' + datum.value","tickSize":-6,"tickColor":"#444444","labelPadding":14,"domain":false,"grid":false,"labelFontSize":13,"labelColor":"#404040","titleFontSize":15,"titleFontWeight":"normal","titleColor":"#262626","titlePadding":12}},
"y2":{"datum":-100},
"fill":{"field":"g","type":"nominal","scale":{"domain":["1","2","3","4","5","6"],"range":["#0072BD","#D95319","#EDB120","#7E2F8E","#77AC30","#4DBEEE"]},"legend":null},
"stroke":{"field":"g","type":"nominal","scale":{"domain":["1","2","3","4","5","6"],"range":["#0072BD","#D95319","#EDB120","#7E2F8E","#77AC30","#4DBEEE"]},"legend":null}
}
},
{
"data":{"name":"core"},
"mark":{"type":"area","color":"#D95319","opacity":1},
"encoding":{
"x":{"field":"f","type":"quantitative","scale":{"type":"log","domain":[19.22,493.6],"nice":false},
"axis":{"orient":"top","title":null,"labels":false,"values":[20,30,40,50,60,70,80,90,100,200,300,400],"tickSize":{"condition":{"test":"datum.value === 100","value":-8},"value":-4},"tickColor":"#444444","domain":false,"grid":false}},
"y":{"field":"lo","type":"quantitative","scale":{"domain":[-100,0],"nice":false},
"axis":{"orient":"right","title":null,"labels":false,"values":[-100,-90,-80,-70,-60,-50,-40,-30,-20,-10,0],"tickSize":-6,"tickColor":"#444444","domain":false,"grid":false}},
"y2":{"field":"hi"}
}
},
{
"data":{"name":"spikes"},
"mark":{"type":"line","color":"#D95319","strokeWidth":1.3},
"encoding":{
"x":{"field":"f","type":"quantitative","scale":{"type":"log","domain":[19.22,493.6],"nice":false},"axis":null},
"y":{"field":"v","type":"quantitative","axis":null},
"detail":{"field":"s"}
}
},
{
"data":{"name":"smooth"},
"mark":{"type":"line","color":"#c8643c","strokeWidth":1,"opacity":0.8},
"encoding":{
"x":{"field":"f","type":"quantitative","scale":{"type":"log","domain":[19.22,493.6],"nice":false},"axis":null},
"y":{"field":"v","type":"quantitative","axis":null},
"detail":{"field":"s"}
}
},
{
"data":{"name":"peaks"},
"mark":{"type":"point","filled":true,"size":55,"color":"#D95319","opacity":1},
"encoding":{
"x":{"field":"f","type":"quantitative","axis":null},
"y":{"field":"v","type":"quantitative","axis":null}
}
},
{
"data":{"name":"bands"},
"mark":{"type":"text","angle":270,"align":"left","baseline":"top","fontSize":14.5,"color":"#1a1a1a","font":"Liberation Sans"},
"encoding":{
"x":{"field":"c","type":"quantitative","axis":null},
"y":{"datum":-15.8,"type":"quantitative","axis":null},
"text":{"field":"name"}
}
},
{
"data":{"values":[{}]},
"mark":{"type":"rect","fill":"white","stroke":"#9a9a9a","strokeWidth":1},
"encoding":{
"x":{"datum":246.5,"type":"quantitative","axis":null},
"x2":{"datum":493.6},
"y":{"datum":-91.3,"type":"quantitative","axis":null},
"y2":{"datum":-100}
}
},
{
"data":{"values":[{}]},
"mark":{"type":"text","align":"right","baseline":"alphabetic","fontSize":13.5,"lineHeight":15,"color":"#262626","font":"Liberation Sans","text":["la_env_ps/Col2:Member 18","Health=broken_bar_1"]},
"encoding":{
"x":{"datum":481,"type":"quantitative","axis":null},
"y":{"datum":-95.2,"type":"quantitative","axis":null}
}
}
]
}
